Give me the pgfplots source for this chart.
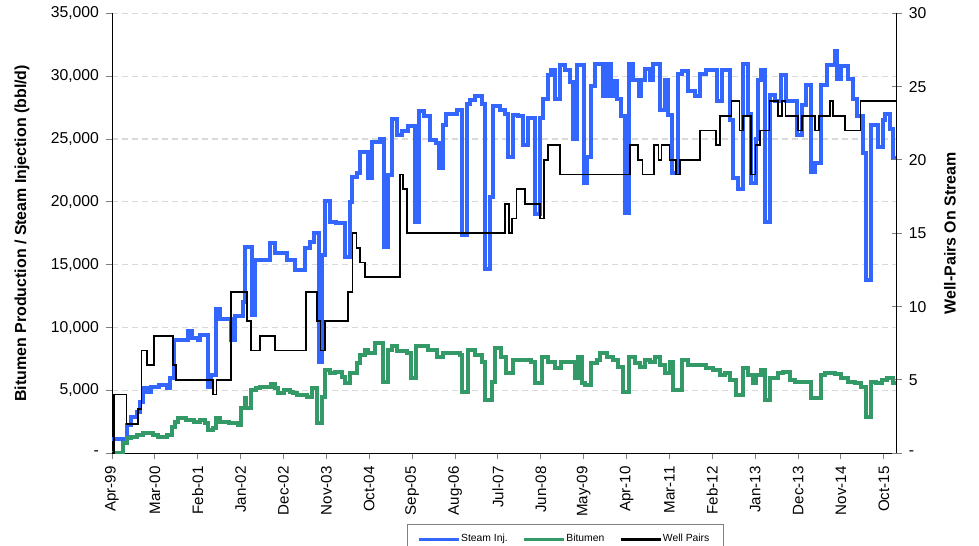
\documentclass[border=0pt]{standalone}
\usepackage{fontspec}
\setmainfont{Liberation Sans}
\usepackage{pgfplots}
\pgfplotsset{compat=1.18}
\usepackage{pgfplotstable}

\definecolor{steamblue}{HTML}{3366FF}
\definecolor{bitgreen}{HTML}{339966}
\definecolor{gridgray}{HTML}{D9D9D9}

% x = months since Apr-99
\pgfplotstableread{
m v
0 1100
3.8 2250
5 2900
6.3 3300
7.2 4100
8 5200
9 4900
10 5300
12 5450
14 5200
15 6000
16 9000
19.5 9700
20.5 9150
22 9000
22.6 9400
24.6 5300
25.5 6200
26.8 11500
27.8 10700
30.5 9000
31.5 10900
33.5 12000
34.2 16400
35.8 11000
36.8 15400
40.5 16700
41.8 15900
45 15400
47 14600
49.5 16300
50.8 16800
51.7 17500
53 7300
53.8 15800
54.6 20100
56 18400
57.5 18300
59.8 15600
61 20000
61.5 22000
62.8 22300
63.6 24000
65.7 21900
66.6 24800
68.7 25000
69.8 16400
70.9 22100
71.7 26600
73 25300
74.3 25600
76 26000
77.7 18400
78.7 27200
80 26800
81.5 24900
83.2 24700
83.8 22700
85 26100
85.8 27000
88.4 27300
89.7 17400
91 27800
91.8 28100
93.2 28400
94.8 27800
95.6 14700
97 20400
97.8 27600
99.5 27300
100.8 27000
101.6 23600
102.9 26900
104.2 26800
105.5 24500
106.8 26700
108.5 19000
109.8 26700
110.6 28200
111.9 30100
112.7 30500
113.6 28200
114.9 30900
116.2 30500
117.5 29500
118.3 25000
119.2 30900
121 21500
121.8 23600
123 29200
123.9 31000
126 28400
126.9 31000
128 28400
128.6 29600
129.5 28200
130.7 26800
131.6 19100
132.5 31000
133.7 29700
135.2 28400
135.8 29700
136.7 30600
138 29700
138.9 31000
140.6 27300
141.9 29700
142.7 26900
143.6 22300
145.3 30200
146.1 30400
147.8 28800
149.5 28400
150.8 30200
152.5 30500
155.1 28000
156.4 30500
158.5 26500
159.3 21900
160.5 21000
161.9 31000
163.2 27000
164 21500
165.3 25000
165.7 29700
166.6 30500
167.5 18400
168.7 28500
170 28000
171.7 30100
173 28000
175.6 25300
176.9 27700
178.1 29300
179.4 22400
180.3 23100
182 29300
183.3 30900
185.4 32000
186 29800
187 30800
188.7 29800
190 28200
191 26800
192.7 23900
193.5 13800
194.8 26100
196.6 24400
197.7 26500
198.3 27000
199.5 25800
200.4 23500
201.3 23500
}\steam

\pgfplotstableread{
m v
0 0
2.9 800
3.8 1200
5 1300
6.3 1450
8 1600
10.6 1450
11.8 1300
14 1450
15.3 2100
16.1 2500
17 2800
19 2650
21 2500
22.5 2650
23.8 2400
24.6 1850
25.9 2000
26.8 2800
27.6 2500
30.1 2400
32.3 2250
33.2 3600
34 4400
34.5 3600
35.7 5000
37 5200
38 5300
40.8 5550
41.8 5200
42.7 4800
44 5000
45.7 4900
46.5 4800
47.4 4650
50 4500
51.2 5200
52.5 2400
53.8 4500
54.6 6600
55.9 6400
57.2 6500
58.9 6100
59.8 5600
61 6400
62.8 7200
63.6 7800
64.9 8200
65.7 8000
67.5 8750
69.6 5700
70.9 8200
71.7 8500
73 8100
75.6 8000
76.8 6000
78.1 8500
79 8550
81 8200
83.3 7700
85 8000
89.2 7800
89.7 4900
91.4 8200
93 7800
94.8 7300
95.6 4250
97.4 5700
98.2 8350
99.9 7700
101.2 6400
102.9 7400
107.5 7300
108.5 5600
110.2 7700
111.9 7300
113.6 6750
115.3 7300
118.8 6000
119.6 7700
120.5 5600
121.3 5450
123 7200
124.3 7400
125.2 8000
126.9 7700
128.6 7400
129.9 6900
131.2 4900
132.5 7700
134.2 7200
135.5 6900
136.7 7400
138 7300
139.3 7700
140.6 7000
141.9 6400
143.1 7300
144 5000
146.1 7400
147.8 7000
152.5 6750
154.3 6600
156 6200
157.2 6400
158.5 5800
160.2 4650
161.9 6750
163.2 6200
164.5 5600
165.3 6200
166.6 6600
167.5 4250
168.7 6000
170.9 6400
172.2 6500
173.9 5800
175.2 5700
179.4 4400
182 6200
182.8 6400
185.4 6300
187.1 6000
188.8 5700
190.5 5600
192.2 5300
193.5 2900
194.8 5700
196.1 5600
197.4 5800
198.7 6000
200.4 5600
201.3 5600
}\bitumen

\pgfplotstableread{
m v
0 0
0.6 4
3.75 2
6.7 3
7.6 7
8.9 6
10.8 8
15.7 6
16.5 5
25.9 4
26.8 5
30.6 11
34.7 9
35.7 7
37.9 8
41.8 7
49.8 11
52.5 9
53.5 7
54.6 9
60.6 11
61.7 15
62.7 14
63.6 13
64.9 12
73.9 19
74.7 18
75.6 15
100.9 17
101.9 15
102.7 16
103.8 18
105.9 17
109.8 16
110.9 20
111.9 21
114.9 19
132.9 21
135 20
136.1 19
139 21
140.2 20
141 21
143 20
144.7 19
145.7 20
150.8 22
154.9 21
156 23
158.9 24
161 22
161.9 23
164 19
165.1 21
166.2 22
168.7 24
170.9 23
171.9 24
172.8 23
176 22
177 23
180.3 22
181.3 23
184.1 24
185 23
188 22
192 24
201.3 24
}\wellpairs

\begin{document}
\begin{tikzpicture}
\pgfplotsset{
  base/.style={scale only axis, width=392.35bp, height=220bp,
    xmin=0, xmax=201.3, axis line style={line width=0.5bp},
    tick style={line width=0.5bp}},
}
\begin{axis}[base, name=ax,
  axis y line*=left, axis x line*=bottom,
  ymin=0, ymax=35000,
  ytick={0,5000,...,35000},
  yticklabels={-,{5,000},{10,000},{15,000},{20,000},{25,000},{30,000},{35,000}},
  ymajorgrids, major grid style={gridgray, dash pattern=on 3bp off 2bp, line width=0.6bp},
  xtick={0,11,...,198},
  xticklabels={Apr-99,Mar-00,Feb-01,Jan-02,Dec-02,Nov-03,Oct-04,Sep-05,Aug-06,Jul-07,Jun-08,May-09,Apr-10,Mar-11,Feb-12,Jan-13,Dec-13,Nov-14,Oct-15},
  xticklabel style={rotate=90, anchor=east, font=\fontsize{7.6}{8}\selectfont},
  yticklabel style={font=\fontsize{7.9}{9}\selectfont},
  tick align=outside, major tick length=3bp,
  ytick style={gray},
  ylabel={\bfseries Bitumen Production / Steam Injection (bbl/d)},
  ylabel style={at={(axis description cs:-0.1147,0.5)}, anchor=center, font=\fontsize{8}{9}\selectfont},
  legend columns=3,
  legend image code/.code={\draw[#1, line width=1.3bp] (0bp,0bp) -- (20bp,0bp);},
  legend style={at={(0.376,-0.1605)}, anchor=north west, draw=gray, line width=0.5bp,
    font=\fontsize{5.2}{6}\selectfont, inner xsep=5bp, inner ysep=3bp,
    /tikz/every even column/.append style={column sep=5.5bp},
    /tikz/every odd column/.append style={column sep=-1.5bp}},
]
\addplot[const plot, steamblue, line width=2bp] table[x=m, y=v] {\steam};
\addlegendentry{Steam Inj.}
\addplot[const plot, bitgreen, line width=2bp] table[x=m, y=v] {\bitumen};
\addlegendentry{Bitumen}
\addlegendimage{black, line width=1bp}
\addlegendentry{Well Pairs}
\end{axis}
\begin{axis}[base,
  axis y line*=right, axis x line=none,
  ymin=0, ymax=30,
  ytick={0,5,...,30},
  yticklabels={-,5,10,15,20,25,30},
  tick align=center, major tick length=5bp,
  yticklabel style={anchor=west, font=\fontsize{7.9}{9}\selectfont},
  ylabel={\bfseries Well-Pairs On Stream},
  ylabel style={at={(axis description cs:1.0679,0.5)}, anchor=center, font=\fontsize{8}{9}\selectfont},
]
\addplot[const plot, black, line width=0.85bp] table[x=m, y=v] {\wellpairs};
\end{axis}
\pgfresetboundingbox
\path[use as bounding box] ([shift={(-56bp,-46.35bp)}]ax.south west) rectangle ([shift={(41.15bp,6.65bp)}]ax.north east);
\end{tikzpicture}
\end{document}
